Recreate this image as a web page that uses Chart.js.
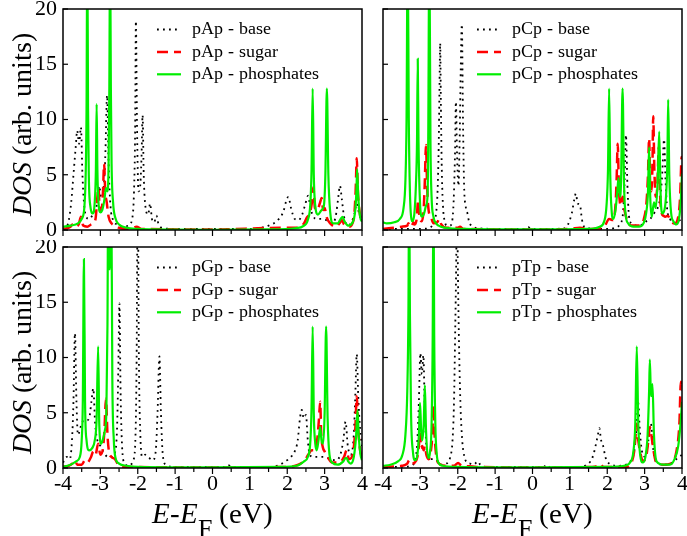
<!DOCTYPE html>
<html><head><meta charset="utf-8">
<script src="https://cdn.jsdelivr.net/npm/chart.js@4.4.1/dist/chart.umd.min.js"></script>
<style>
@font-face{font-family:"LSerif";src:local("Liberation Serif"),local("LiberationSerif");font-style:normal;font-weight:400;}
@font-face{font-family:"LSerif";src:local("Liberation Serif Italic"),local("LiberationSerif-Italic");font-style:italic;font-weight:400;}
html,body{margin:0;padding:0;background:#fff;}
#wrap{position:relative;width:687px;height:536px;overflow:hidden;font-family:LSerif,"Liberation Serif",serif;color:#000;}
canvas{position:absolute;}
.yt{position:absolute;width:260px;height:34px;line-height:34px;text-align:center;font-size:28px;transform:rotate(-90deg);white-space:nowrap;}
.xt{position:absolute;width:300px;height:34px;line-height:34px;text-align:center;font-size:29px;white-space:nowrap;}
.xt sub{font-size:26px;vertical-align:-0.55em;line-height:0;}
</style></head><body>
<div id="wrap">
<canvas id="c0" width="372" height="240" style="left:0;top:0"></canvas>
<canvas id="c1" width="315" height="240" style="left:372px;top:0"></canvas>
<canvas id="c2" width="372" height="296" style="left:0;top:240px"></canvas>
<canvas id="c3" width="315" height="296" style="left:372px;top:240px"></canvas>
<div class="yt" style="left:-108px;top:107px"><i>DOS</i> (arb. units)</div>
<div class="yt" style="left:-108px;top:345px"><i>DOS</i> (arb. units)</div>
<div class="xt" style="left:62px;top:496px"><i>E</i>-<i>E</i><sub>F</sub> (eV)</div>
<div class="xt" style="left:382px;top:496px"><i>E</i>-<i>E</i><sub>F</sub> (eV)</div>
</div>
<script>
// ---- data: [energy (eV), DOS] ----
const xTicks = [-4,-3,-2,-1,0,1,2,3,4];
const yTicks = [0,5,10,15,20];
const panelNames = ['pAp','pCp','pGp','pTp'];
const seriesNames = ['base','sugar','phosphates'];

const pAp_base = [[-4.0,0.1],[-3.9,0.3],[-3.85,0.8],[-3.78,2.5],[-3.72,5.0],[-3.66,7.5],[-3.62,9.0],[-3.57,7.8],[-3.52,9.3],[-3.48,5.0],[-3.44,2.5],[-3.38,1.2],[-3.3,1.0],[-3.2,1.4],[-3.1,2.2],[-3.03,4.0],[-2.98,3.0],[-2.92,3.5],[-2.87,6.5],[-2.82,12.2],[-2.78,6.0],[-2.73,2.2],[-2.66,0.9],[-2.55,0.5],[-2.4,0.3],[-2.25,0.4],[-2.15,1.0],[-2.1,3.5],[-2.07,9.0],[-2.05,18.9],[-2.02,9.5],[-1.98,3.5],[-1.94,3.8],[-1.9,6.5],[-1.87,10.4],[-1.84,5.0],[-1.79,2.0],[-1.72,1.4],[-1.67,2.4],[-1.62,1.0],[-1.56,0.7],[-1.5,1.3],[-1.45,0.6],[-1.35,0.2],[-1.0,0.1],[0,0.1],[1.0,0.1],[1.3,0.2],[1.5,0.4],[1.75,0.9],[1.9,1.7],[1.97,2.6],[2.03,3.0],[2.1,2.0],[2.2,1.0],[2.3,0.9],[2.4,1.4],[2.48,2.3],[2.56,3.1],[2.62,2.0],[2.7,1.2],[2.8,1.0],[2.95,1.0],[3.1,0.8],[3.22,0.6],[3.3,1.3],[3.36,2.8],[3.41,4.0],[3.46,2.8],[3.52,1.2],[3.62,0.4],[3.72,0.7],[3.8,1.5],[3.86,2.4],[3.92,1.5],[4.0,0.8]];
const pAp_sugar = [[-4.0,0.1],[-3.8,0.3],[-3.75,0.5],[-3.68,0.3],[-3.58,0.5],[-3.52,1.2],[-3.46,0.4],[-3.35,0.3],[-3.25,0.5],[-3.2,0.6],[-3.13,1.0],[-3.08,3.0],[-3.05,3.8],[-3.02,2.0],[-2.97,1.8],[-2.93,3.5],[-2.90,6.0],[-2.87,3.5],[-2.83,2.5],[-2.78,1.2],[-2.7,0.6],[-2.61,0.4],[-2.5,0.2],[-2.2,0.1],[-2.03,0.3],[-1.9,0.1],[0,0.05],[1.81,0.2],[2.2,0.2],[2.45,0.6],[2.52,1.1],[2.6,1.5],[2.66,2.5],[2.70,3.9],[2.74,2.0],[2.8,1.8],[2.88,2.5],[2.92,2.9],[2.96,1.8],[3.0,2.0],[3.05,1.2],[3.15,0.6],[3.3,0.3],[3.42,0.7],[3.46,0.9],[3.52,0.5],[3.65,0.3],[3.78,1.0],[3.83,3.5],[3.86,6.5],[3.89,3.5],[3.95,1.3],[4.0,0.8]];
const pAp_phos = [[-4.0,0.3],[-3.8,0.4],[-3.6,0.6],[-3.5,1.0],[-3.43,2.0],[-3.39,5.5],[-3.37,11],[-3.35,26],[-3.33,11],[-3.31,5],[-3.27,2.2],[-3.2,1.5],[-3.15,2.6],[-3.12,5.5],[-3.10,11.4],[-3.08,5.5],[-3.05,2.5],[-3.0,1.6],[-2.95,1.8],[-2.89,2.8],[-2.85,3.8],[-2.81,3.5],[-2.78,6],[-2.76,13],[-2.74,26],[-2.72,13],[-2.70,6],[-2.66,2.5],[-2.6,1.1],[-2.5,0.5],[-2.3,0.2],[-2.0,0.1],[-1.5,0.05],[0,0.02],[1.5,0.05],[2.2,0.15],[2.45,0.4],[2.55,0.9],[2.62,2.5],[2.65,5.5],[2.68,12.8],[2.71,5],[2.75,2.2],[2.82,1.4],[2.92,1.8],[2.98,2.2],[3.02,5],[3.06,12.8],[3.10,5],[3.15,1.6],[3.23,0.6],[3.35,0.6],[3.43,1.0],[3.48,1.2],[3.53,0.8],[3.63,0.4],[3.75,0.7],[3.82,1.8],[3.85,3.5],[3.87,5.5],[3.90,3.0],[3.95,1.2],[4.0,0.75]];

const pCp_base = [[-4.0,0.1],[-3.5,0.1],[-3.0,0.1],[-2.75,0.2],[-2.66,0.5],[-2.62,0.8],[-2.58,1.5],[-2.54,3.5],[-2.51,7.5],[-2.49,12.5],[-2.47,16.9],[-2.45,11],[-2.43,6],[-2.4,2.5],[-2.35,0.8],[-2.28,0.4],[-2.21,0.4],[-2.14,1.0],[-2.1,3.5],[-2.07,7.5],[-2.05,11.6],[-2.02,7.0],[-1.98,4.0],[-1.95,8.0],[-1.92,14.5],[-1.89,18.6],[-1.86,10],[-1.83,4.0],[-1.79,2.2],[-1.74,1.5],[-1.7,0.8],[-1.6,0.3],[-1.4,0.15],[-1.0,0.1],[-0.2,0.1],[-0.11,0.25],[-0.05,0.1],[0.5,0.1],[0.85,0.15],[0.95,0.5],[1.05,1.5],[1.12,2.8],[1.16,3.3],[1.21,2.4],[1.27,2.3],[1.32,1.0],[1.38,0.3],[1.5,0.15],[2.0,0.1],[2.2,0.2],[2.35,0.6],[2.42,1.5],[2.46,4.0],[2.50,8.6],[2.54,4.0],[2.58,1.3],[2.65,0.6],[2.8,0.4],[2.95,0.5],[3.05,0.8],[3.15,1.0],[3.25,1.5],[3.35,2.0],[3.42,3.0],[3.47,5.0],[3.52,8.2],[3.56,4.5],[3.6,2.0],[3.68,1.0],[3.8,0.6],[3.9,0.8],[4.0,1.0]];
const pCp_sugar = [[-4.0,0.1],[-3.7,0.2],[-3.5,0.3],[-3.35,0.4],[-3.32,0.6],[-3.28,0.3],[-3.22,0.4],[-3.19,0.7],[-3.15,0.5],[-3.1,1.0],[-3.06,2.7],[-3.02,1.0],[-2.96,0.8],[-2.91,2.0],[-2.88,4.5],[-2.85,7.7],[-2.82,4.0],[-2.78,1.8],[-2.72,1.2],[-2.65,0.6],[-2.55,0.7],[-2.49,1.0],[-2.44,0.5],[-2.3,0.2],[-2.0,0.2],[-1.94,0.3],[-1.85,0.1],[0,0.05],[1.0,0.1],[1.27,0.2],[1.5,0.1],[1.9,0.2],[2.05,1.0],[2.15,0.9],[2.22,2.2],[2.25,4.5],[2.28,7.8],[2.31,4.0],[2.36,2.2],[2.41,3.0],[2.45,2.0],[2.52,1.0],[2.65,0.4],[2.85,0.4],[2.98,1.0],[3.05,2.5],[3.09,5.0],[3.12,8.3],[3.15,4.0],[3.18,3.5],[3.21,6.0],[3.23,10.3],[3.26,5.5],[3.3,3.0],[3.34,4.0],[3.38,7.5],[3.41,3.5],[3.46,1.5],[3.5,1.3],[3.55,1.2],[3.62,1.3],[3.7,0.8],[3.8,0.6],[3.9,1.2],[3.95,3.0],[3.99,6.6],[4.0,6.4]];
const pCp_phos = [[-4.0,0.7],[-3.9,0.6],[-3.7,0.7],[-3.55,1.0],[-3.45,2.0],[-3.4,4.5],[-3.37,10],[-3.34,26],[-3.31,10],[-3.28,3.5],[-3.24,1.0],[-3.21,0.8],[-3.16,1.5],[-3.12,4.0],[-3.09,8.0],[-3.07,15.5],[-3.05,8.0],[-3.01,2.5],[-2.96,1.2],[-2.9,1.5],[-2.85,2.2],[-2.81,3.0],[-2.79,8],[-2.76,26],[-2.73,8],[-2.7,3.0],[-2.65,1.2],[-2.58,0.6],[-2.45,0.3],[-2.2,0.15],[-1.8,0.1],[0,0.05],[1.5,0.1],[1.8,0.3],[1.92,0.8],[1.98,2.2],[2.02,5.5],[2.05,12.8],[2.08,5.0],[2.12,1.6],[2.16,1.0],[2.22,1.8],[2.27,3.5],[2.30,4.7],[2.34,3.0],[2.37,4.5],[2.41,12.8],[2.45,4.0],[2.5,1.2],[2.56,0.6],[2.7,0.3],[2.85,0.3],[2.97,0.6],[3.04,1.5],[3.09,3.5],[3.12,7.5],[3.15,3.0],[3.19,1.2],[3.25,2.5],[3.3,2.0],[3.35,4.5],[3.39,8.9],[3.43,3.0],[3.47,1.5],[3.53,1.8],[3.58,3.5],[3.61,6.5],[3.63,11.8],[3.66,5.0],[3.71,1.5],[3.77,0.8],[3.85,0.5],[3.92,1.0],[3.97,2.8],[4.0,5.1]];

const pGp_base = [[-4.0,0.5],[-3.9,1.0],[-3.82,0.8],[-3.76,2.5],[-3.72,6.0],[-3.68,12.2],[-3.64,6.0],[-3.6,3.0],[-3.52,3.8],[-3.45,4.3],[-3.38,4.3],[-3.3,4.5],[-3.24,6.0],[-3.19,7.2],[-3.14,4.0],[-3.08,2.5],[-3.0,2.0],[-2.92,1.5],[-2.8,1.0],[-2.7,1.0],[-2.6,1.5],[-2.55,4.0],[-2.52,9.0],[-2.49,14.9],[-2.46,7.0],[-2.42,2.0],[-2.36,0.5],[-2.25,0.2],[-2.12,0.7],[-2.06,3.0],[-2.03,10],[-2.0,26],[-1.97,10],[-1.93,3.0],[-1.88,1.0],[-1.8,1.2],[-1.72,1.0],[-1.6,0.7],[-1.52,1.5],[-1.47,5.0],[-1.42,10.1],[-1.38,5.0],[-1.33,1.2],[-1.25,0.3],[-1.0,0.1],[0.35,0.1],[0.42,0.25],[0.5,0.1],[1.6,0.1],[1.8,0.3],[1.95,0.6],[2.1,1.0],[2.2,1.5],[2.28,2.5],[2.34,4.5],[2.39,5.25],[2.44,4.5],[2.5,4.8],[2.55,2.5],[2.6,1.2],[2.7,1.0],[2.85,1.0],[3.0,1.0],[3.15,0.8],[3.3,0.7],[3.42,1.2],[3.5,2.5],[3.56,4.2],[3.62,2.0],[3.7,1.2],[3.78,3.0],[3.82,6.5],[3.86,10.3],[3.9,6.5],[3.95,3.5],[4.0,2.0]];
const pGp_sugar = [[-4.0,0.1],[-3.85,0.2],[-3.75,0.4],[-3.68,0.7],[-3.62,0.3],[-3.5,0.3],[-3.41,0.7],[-3.35,0.5],[-3.25,1.0],[-3.19,1.5],[-3.13,1.2],[-3.06,2.2],[-3.0,1.2],[-2.93,1.8],[-2.89,3.5],[-2.85,6.3],[-2.81,3.0],[-2.77,1.5],[-2.7,1.0],[-2.61,0.8],[-2.52,0.3],[-2.3,0.1],[0,0.05],[2.0,0.1],[2.3,0.3],[2.47,0.7],[2.56,1.2],[2.66,1.6],[2.74,1.6],[2.8,2.5],[2.85,4.5],[2.88,6.0],[2.91,3.0],[2.95,1.9],[3.0,1.5],[3.08,1.0],[3.2,0.5],[3.4,0.5],[3.52,1.0],[3.59,1.6],[3.65,0.8],[3.75,1.2],[3.82,3.5],[3.86,6.5],[3.9,3.5],[3.95,1.6],[4.0,1.0]];
const pGp_phos = [[-4.0,0.1],[-3.8,0.3],[-3.65,0.6],[-3.55,1.0],[-3.5,2.5],[-3.47,6],[-3.44,18.9],[-3.41,6],[-3.37,2.5],[-3.3,1.6],[-3.22,1.8],[-3.15,2.5],[-3.1,4.5],[-3.06,11.0],[-3.03,4.0],[-2.98,2.2],[-2.93,2.6],[-2.88,3.4],[-2.84,5],[-2.81,13],[-2.79,26],[-2.77,18],[-2.74,18],[-2.71,26],[-2.68,8],[-2.64,2.5],[-2.6,1.0],[-2.5,0.4],[-2.3,0.2],[-2.0,0.1],[0,0.05],[1.8,0.1],[2.25,0.2],[2.45,0.6],[2.55,1.0],[2.62,2.5],[2.65,5.5],[2.68,12.8],[2.71,5],[2.75,2.2],[2.79,1.6],[2.84,2.6],[2.88,3.7],[2.92,2.4],[2.96,2.2],[3.0,5],[3.04,12.8],[3.08,4.5],[3.13,1.2],[3.2,0.5],[3.35,0.3],[3.5,0.6],[3.56,0.9],[3.59,0.9],[3.63,0.6],[3.7,0.4],[3.78,1.0],[3.84,2.8],[3.88,5.25],[3.91,3.0],[3.96,1.2],[4.0,0.7]];

const pTp_base = [[-4.0,0.1],[-3.5,0.1],[-3.2,0.3],[-3.12,1.0],[-3.08,2.5],[-3.04,6.0],[-3.0,10.4],[-2.96,8.5],[-2.92,10.2],[-2.88,5.0],[-2.84,2.0],[-2.78,1.0],[-2.7,0.8],[-2.6,0.8],[-2.45,0.3],[-2.3,0.4],[-2.2,1.0],[-2.14,2.5],[-2.1,6.0],[-2.07,12],[-2.04,19],[-2.02,26],[-2.0,19],[-1.97,12],[-1.93,6.0],[-1.88,2.5],[-1.82,1.0],[-1.75,0.5],[-1.67,0.4],[-1.58,0.3],[-1.5,0.5],[-1.46,0.6],[-1.4,0.3],[-1.2,0.1],[0.3,0.1],[0.38,0.3],[0.45,0.1],[1.3,0.1],[1.45,0.3],[1.55,0.6],[1.63,1.2],[1.7,2.2],[1.75,3.0],[1.79,3.6],[1.83,2.6],[1.89,2.0],[1.95,1.0],[2.05,0.4],[2.3,0.2],[2.5,0.3],[2.62,0.6],[2.72,1.5],[2.78,3.5],[2.83,5.9],[2.87,3.5],[2.93,1.5],[3.02,1.0],[3.1,2.5],[3.17,4.0],[3.22,2.0],[3.3,0.6],[3.5,0.3],[3.7,0.4],[3.85,0.8],[4.0,1.2]];
const pTp_sugar = [[-4.0,0.1],[-3.5,0.2],[-3.35,0.4],[-3.3,0.7],[-3.25,0.4],[-3.15,0.5],[-3.08,1.0],[-3.04,2.0],[-3.01,3.3],[-2.98,1.8],[-2.95,2.0],[-2.91,1.6],[-2.88,2.0],[-2.84,1.2],[-2.78,0.8],[-2.72,1.5],[-2.68,3.0],[-2.65,5.7],[-2.62,3.0],[-2.57,1.0],[-2.5,0.4],[-2.3,0.2],[-2.1,0.2],[-1.99,0.45],[-1.9,0.2],[-1.7,0.15],[-1.5,0.1],[0,0.05],[1.6,0.1],[1.75,0.2],[1.81,0.35],[1.9,0.1],[2.5,0.1],[2.65,0.5],[2.72,1.5],[2.76,3.0],[2.79,4.0],[2.83,2.5],[2.88,1.5],[2.95,0.6],[3.05,1.2],[3.1,2.5],[3.14,3.7],[3.18,3.0],[3.22,2.0],[3.3,0.6],[3.5,0.3],[3.7,0.4],[3.85,1.5],[3.93,4.0],[3.97,7.8],[4.0,7.0]];
const pTp_phos = [[-4.0,0.2],[-3.8,0.3],[-3.6,0.6],[-3.48,1.2],[-3.4,3.0],[-3.35,7],[-3.32,14],[-3.30,26],[-3.28,14],[-3.25,5],[-3.2,1.5],[-3.14,0.7],[-3.08,1.2],[-3.04,3.0],[-3.01,5.9],[-2.98,3.5],[-2.95,2.5],[-2.91,4.0],[-2.88,7.5],[-2.85,3.5],[-2.79,0.9],[-2.74,1.5],[-2.7,4.0],[-2.67,12],[-2.65,26],[-2.63,12],[-2.6,4.0],[-2.56,1.2],[-2.52,0.5],[-2.4,0.2],[-2.0,0.1],[0,0.05],[2.0,0.1],[2.45,0.2],[2.61,0.5],[2.7,1.5],[2.75,4.0],[2.79,11.0],[2.83,4.0],[2.88,1.2],[2.95,0.5],[3.02,1.0],[3.08,3.0],[3.12,7.0],[3.14,9.8],[3.17,6.5],[3.21,7.6],[3.25,3.0],[3.32,0.6],[3.5,0.3],[3.68,0.3],[3.8,0.8],[3.9,2.0],[3.96,4.0],[4.0,6.0]];

// ---- styling ----
const styles = [
  {color:'#000000', width:1.8, dash:[1.8,4.2], order:2},
  {color:'#ff0000', width:2.5, dash:[11,6], order:1},
  {color:'#00ee00', width:2.2, dash:[], order:0}
];
const FONT = 'LSerif, "Liberation Serif", serif';

const framePlugin = {
  id:'frame',
  afterDraw(chart){
    const {ctx, chartArea:a, scales:{x,y}} = chart;
    ctx.save();
    ctx.strokeStyle = '#000'; ctx.lineWidth = 1.5; ctx.setLineDash([]);
    ctx.strokeRect(a.left, a.top, a.right - a.left, a.bottom - a.top);
    ctx.lineWidth = 1.2;
    for (let i = 0; i < xTicks.length; i++) {
      const v = xTicks[i];
      const px = x.getPixelForValue(v);
      ctx.beginPath(); ctx.moveTo(px, a.bottom); ctx.lineTo(px, a.bottom + 6); ctx.stroke();
      if (i < xTicks.length - 1) {
        const pm = (px + x.getPixelForValue(xTicks[i+1])) / 2;
        ctx.beginPath(); ctx.moveTo(pm, a.bottom); ctx.lineTo(pm, a.bottom + 4); ctx.stroke();
      }
    }
    for (const v of yTicks) {
      const py = y.getPixelForValue(v);
      ctx.beginPath(); ctx.moveTo(a.left, py); ctx.lineTo(a.left + 5, py); ctx.stroke();
    }
    // legend
    const name = chart.options.plugins.panelName;
    ctx.font = '18px ' + FONT;
    ctx.textBaseline = 'middle'; ctx.fillStyle = '#000';
    for (let i = 0; i < 3; i++) {
      const st = styles[i];
      const ly = a.top + 20.5 + i * 22.4;
      ctx.strokeStyle = st.color; ctx.lineWidth = st.width; ctx.setLineDash(st.dash);
      ctx.beginPath(); ctx.moveTo(a.left + 94, ly); ctx.lineTo(a.left + 118, ly); ctx.stroke();
      ctx.fillText(name + ' - ' + seriesNames[i], a.left + 128.5, ly);
    }
    ctx.restore();
  }
};

const toXY = arr => arr.map(p => ({x:p[0], y:p[1]}));

function makePanel(id, name, series, cfg) {
  const datasets = series.map((s, i) => ({
    label: name + ' - ' + seriesNames[i],
    data: toXY(s),
    borderColor: styles[i].color,
    borderWidth: styles[i].width,
    borderDash: styles[i].dash,
    pointRadius: 0,
    fill: false,
    cubicInterpolationMode: 'monotone',
    order: styles[i].order,
    clip: 0
  }));
  new Chart(document.getElementById(id), {
    type: 'line',
    data: {datasets},
    plugins: [framePlugin],
    options: {
      responsive: false, animation: false, devicePixelRatio: 1,
      layout: {padding: {top: cfg.top, right: cfg.right, left: 0, bottom: 0}},
      plugins: {legend: {display: false}, tooltip: {enabled: false}, panelName: name},
      scales: {
        x: {
          type: 'linear', min: -4, max: 4,
          grid: {display: false, drawTicks: false}, border: {display: false},
          afterBuildTicks: s => { s.ticks = xTicks.map(v => ({value: v})); },
          ticks: {display: cfg.showX, autoSkip: false, maxRotation: 0, padding: 3, color: '#000',
                  font: {family: FONT, size: 22}},
          afterFit: s => { s.height = cfg.xh; s.paddingLeft = 0; s.paddingRight = 0; }
        },
        y: {
          min: 0, max: 20,
          grid: {display: false, drawTicks: false}, border: {display: false},
          afterBuildTicks: s => { s.ticks = yTicks.map(v => ({value: v})); },
          ticks: {display: cfg.showY, padding: 6, color: '#000', font: {family: FONT, size: 22}},
          afterFit: s => { s.width = cfg.yw; s.paddingTop = 0; s.paddingBottom = 0; }
        }
      }
    }
  });
}

function drawAll() {
  makePanel('c0', panelNames[0], [pAp_base, pAp_sugar, pAp_phos], {top: 9, right: 10, xh: 10, yw: 63, showX: false, showY: true});
  makePanel('c1', panelNames[1], [pCp_base, pCp_sugar, pCp_phos], {top: 9, right: 5, xh: 10, yw: 11, showX: false, showY: false});
  makePanel('c2', panelNames[2], [pGp_base, pGp_sugar, pGp_phos], {top: 7, right: 10, xh: 68, yw: 63, showX: true, showY: true});
  makePanel('c3', panelNames[3], [pTp_base, pTp_sugar, pTp_phos], {top: 7, right: 5, xh: 68, yw: 11, showX: true, showY: false});
}
let drawn = false;
function go() { if (!drawn) { drawn = true; drawAll(); } }
Promise.all([
  document.fonts.load('22px LSerif'),
  document.fonts.load('italic 22px LSerif')
]).then(go, go);
setTimeout(go, 1500);
</script>
</body></html>
